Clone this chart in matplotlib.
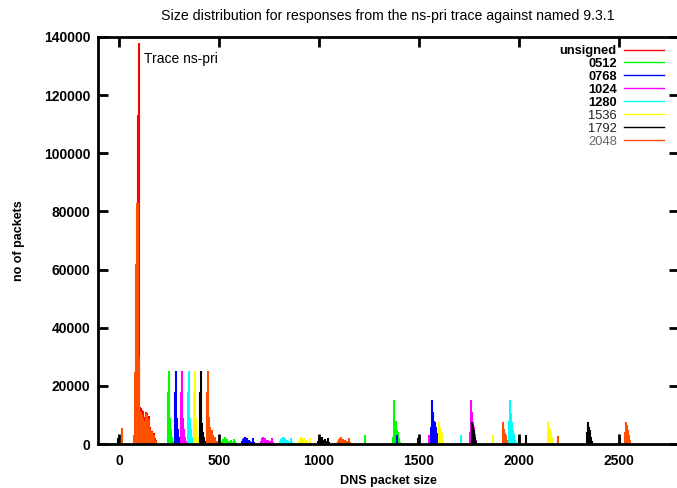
import matplotlib
matplotlib.use("Agg")
import matplotlib.pyplot as plt
from matplotlib.lines import Line2D

plt.rcParams['font.family'] = ['Liberation Sans', 'DejaVu Sans']

# response size histograms (packet size in bytes -> number of packets)
sizes_unsigned = [95, 100, 105, 110, 115, 120, 125, 130, 135, 140, 145, 150,
                  155, 160, 165, 170, 175, 180, 185]
counts_unsigned = [113000, 138000, 12800, 12500, 11700, 11500, 9400, 8600,
                   11100, 10800, 9000, 9600, 6000, 4200, 4600, 3100, 3800,
                   2200, 1400]

sizes_0512 = [245, 250, 255, 260, 265, 270,
              515, 520, 525, 530, 535, 540, 545, 550, 555, 560, 565, 575, 580,
              1230,
              1370, 1375, 1380, 1385, 1390, 1395, 1400, 1405]
counts_0512 = [18000, 25000, 9000, 5000, 2500, 1200,
               900, 1600, 1200, 2400, 1400, 1700, 900, 1200, 600, 1500, 700,
               1600, 900,
               3100,
               2500, 15100, 8000, 7900, 4800, 4200, 2000, 800]

sizes_0768 = [278, 283, 288, 293, 298, 303,
              615, 620, 625, 630, 635, 640, 645, 650, 655, 660, 670, 675,
              1392,
              1560, 1565, 1570, 1575, 1580, 1585, 1590, 1595]
counts_0768 = [18000, 25000, 9000, 5000, 2500, 1200,
               900, 1800, 2000, 2500, 1500, 1900, 1100, 1400, 1000, 700, 2100,
               600,
               3100,
               6000, 15100, 11000, 8000, 7700, 6000, 3800, 1500]

sizes_1024 = [310, 315, 320, 325, 330, 335,
              710, 715, 720, 725, 730, 735, 740, 745, 750, 755, 765, 770,
              1550,
              1755, 1760, 1765, 1770, 1775, 1780, 1785]
counts_1024 = [18000, 25000, 9000, 5000, 2500, 1200,
               1200, 2200, 2500, 1800, 2000, 1300, 1500, 1300, 900, 1000, 2000,
               600,
               3100,
               4000, 15100, 11000, 7700, 6000, 3500, 1500]

sizes_1280 = [343, 348, 353, 358, 363, 368,
              805, 810, 815, 820, 825, 830, 835, 840, 845, 850, 860, 865,
              1710,
              1950, 1955, 1960, 1965, 1970, 1975, 1980, 1985]
counts_1280 = [18000, 25000, 9000, 5000, 2500, 1200,
               900, 1700, 2200, 2500, 1600, 2000, 1200, 1300, 1200, 800, 2000,
               600,
               3100,
               8000, 15100, 10700, 7700, 4800, 3500, 1500, 800]

sizes_1536 = [375, 380, 385, 390, 395, 400,
              900, 905, 910, 915, 920, 925, 930, 935, 940, 945, 955, 960,
              1600, 1605, 1610, 1615, 1620,
              1870,
              2145, 2150, 2155, 2160, 2165, 2170]
counts_1536 = [18000, 25000, 9000, 5000, 2500, 1200,
               1000, 1800, 2500, 2200, 1500, 2000, 1200, 1300, 1200, 800, 2100,
               700,
               7400, 6000, 4200, 3900, 1500,
               3100,
               7700, 6000, 5200, 3800, 2000, 800]

sizes_1792 = [-5,
              407, 412, 417, 422, 427, 432,
              995, 1000, 1005, 1010, 1015, 1020, 1025, 1030, 1035, 1045, 1050,
              1495,
              1765, 1770, 1775, 1780, 1785,
              2000, 2035,
              2340, 2345, 2350, 2355, 2360, 2365,
              2505]
counts_1792 = [2200,
               18000, 25000, 7200, 4200, 2500, 1200,
               1000, 2000, 2200, 1800, 2500, 1500, 1200, 1600, 1000, 2100, 700,
               2200,
               7700, 6500, 4800, 2500, 1200,
               2100, 3100,
               4000, 7700, 6000, 4800, 2500, 1000,
               2100]

sizes_2048 = [15,
              75, 80, 85, 90, 95, 100, 105, 110, 115, 120, 125, 130, 135, 140,
              145, 150, 155, 160, 165, 170, 175, 180, 185,
              439, 444, 449, 454, 459, 464, 469, 474, 479, 484, 489,
              1095, 1100, 1105, 1110, 1115, 1120, 1125, 1130, 1135, 1145, 1150,
              1155,
              1920, 1925, 1930, 1935, 1940,
              2195,
              2530, 2535, 2540, 2545, 2550, 2555]
counts_2048 = [5500,
               3000, 24700, 62000, 83000, 83000, 30000, 11500, 11000, 10000,
               9000, 8000, 7000, 10500, 10000, 8000, 8500, 5000, 3500, 4000,
               2500, 3000, 1500, 1000,
               18000, 25000, 9400, 6000, 4800, 4800, 3000, 2500, 2500, 1000,
               1000,
               900, 1800, 2000, 2500, 1600, 1700, 1500, 1500, 900, 1000, 2100,
               600,
               7400, 5000, 3800, 3000, 1500,
               2750,
               4000, 7700, 6500, 4800, 3000, 1500]

series = [
    ('unsigned', sizes_unsigned, counts_unsigned, '#ff0000'),
    ('0512', sizes_0512, counts_0512, '#00ff00'),
    ('0768', sizes_0768, counts_0768, '#0000ff'),
    ('1024', sizes_1024, counts_1024, '#ff00ff'),
    ('1280', sizes_1280, counts_1280, '#00ffff'),
    ('1536', sizes_1536, counts_1536, '#ffff00'),
    ('1792', sizes_1792, counts_1792, '#000000'),
    ('2048', sizes_2048, counts_2048, '#ff5000'),
]
label_colors = ['#000000'] * 5 + ['#222222', '#222222', '#666666']
label_weights = ['bold'] * 5 + ['normal'] * 3

fig = plt.figure(figsize=(6.77, 4.88), dpi=100)
ax = fig.add_axes([97.5 / 677, 44 / 488, 581.5 / 677, 407 / 488])

handles = []
for name, xs, ys, col in series:
    ax.vlines(xs, 0, ys, colors=col, linewidth=1.5)
    handles.append(Line2D([], [], color=col, linewidth=1.0, label=name))

ax.set_xlim(-107.5, 2800)
ax.set_ylim(0, 140000)
ax.set_xticks(range(0, 2501, 500))
ax.set_yticks(range(0, 140001, 20000))

for s in ax.spines.values():
    s.set_linewidth(2)
ax.tick_params(direction='in', length=7, width=2, top=True, right=True,
               labelsize=10)
ax.tick_params(axis='y', pad=5)
ax.tick_params(axis='x', pad=7)
for t in ax.get_xticklabels() + ax.get_yticklabels():
    t.set_fontweight('bold')

ax.set_xlabel('DNS packet size', fontsize=9, fontweight='bold', labelpad=5)
ax.set_ylabel('no of packets', fontsize=9, fontweight='bold', labelpad=14)
ax.set_title('Size distribution for responses from the ns-pri trace against named 9.3.1',
             fontsize=10.2, pad=12)
ax.text(125, 132500, 'Trace ns-pri', fontsize=10, va='center', ha='left')

leg = ax.legend(handles=handles, loc='upper right', markerfirst=False,
                frameon=False, fontsize=9.3, handlelength=3.1,
                handletextpad=0.55, labelspacing=0.07, borderpad=0,
                borderaxespad=0,
                bbox_to_anchor=(664 / 677, 443 / 488),
                bbox_transform=fig.transFigure)
for t, c, w in zip(leg.get_texts(), label_colors, label_weights):
    t.set_color(c)
    t.set_fontweight(w)

fig.savefig('out.png', dpi=100)
